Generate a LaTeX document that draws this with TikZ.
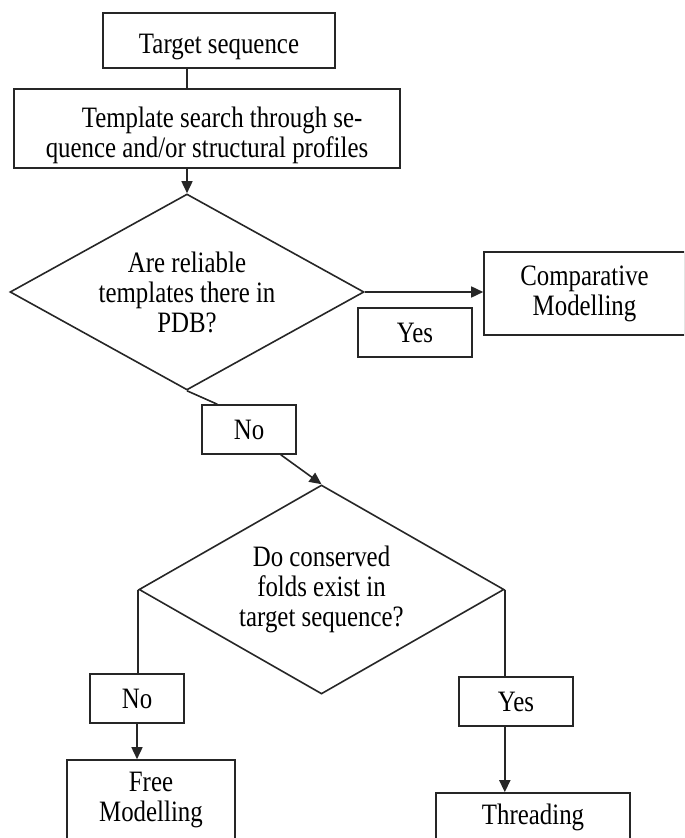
\documentclass[tikz,border=0pt]{standalone}
\usepackage{fontspec}
\setmainfont{Liberation Serif}[FakeStretch=0.84]
\usetikzlibrary{arrows.meta,positioning,shapes.geometric}
\tikzset{
  flowbox/.style={draw=black!85,line width=0.8pt,inner sep=0pt,align=center,
    font=\fontsize{14.8}{15}\selectfont},
  choice/.style={flowbox,diamond,aspect=1.8},
  flowline/.style={draw=black!85,line width=0.8pt},
  flowarrow/.style={flowline,-{Triangle[length=6pt,width=5.5pt]}},
}

\begin{document}
\begin{tikzpicture}[x=0.5pt,y=-0.5pt]
  \clip (0,0) rectangle (684,838);
  % boxes and decisions
  \node[flowbox,minimum width=116pt,minimum height=27.5pt,text height=16pt] (target) at (219,40.5) {Target sequence};
  \node[flowbox,minimum width=193pt,minimum height=39.5pt,align=left,text height=32pt] (search) at (207,128.5)
    {\hspace*{18pt}Template search through se-\\quence and/or structural profiles};
  \node[choice,minimum width=177pt,minimum height=98pt] (reliable) at (187,292)
    {Are reliable\\templates there in\\PDB?};
  \node[flowbox,minimum width=100.5pt,minimum height=41.5pt] (comparative) at (584.5,293.5)
    {Comparative\\Modelling};
  \node[flowbox,minimum width=57pt,minimum height=24.5pt] (yesA) at (415,332.5) {Yes};
  \node[flowbox,minimum width=47pt,minimum height=24.5pt] (noA) at (249,429.5) {No};
  \node[choice,aspect=1.75,minimum width=182.5pt,minimum height=104.5pt] (folds) at (321.5,589.5)
    {Do conserved\\folds exist in\\target sequence?};
  \node[flowbox,minimum width=47pt,minimum height=24.5pt] (noB) at (137,698.5) {No};
  \node[flowbox,minimum width=57pt,minimum height=24.5pt] (yesB) at (516,701.5) {Yes};
  \node[flowbox,minimum width=84pt,minimum height=40pt] (free) at (151,800) {Free\\Modelling};
  \node[flowbox,minimum width=97pt,minimum height=24pt] (threading) at (533,817) {Threading};

  % connectors
  \draw[flowline] (target.south -| reliable.north) -- (search.north -| reliable.north);
  \draw[flowarrow] (search.south -| reliable.north) -- (reliable.north);
  \draw[flowarrow] (reliable.east) -- (reliable.east -| comparative.west);
  \draw[flowline] (reliable.south) -- ([xshift=8pt]noA.north west);
  \draw[flowarrow] ([xshift=-8pt]noA.south east) -- (folds.north);
  \draw[flowline] (folds.west) -- (folds.west |- noB.north);
  \draw[flowarrow] (noB.south) -- (noB.south |- free.north);
  \draw[flowline] (folds.east) -- (folds.east |- yesB.north);
  \draw[flowarrow] (yesB.south -| folds.east) -- (threading.north -| folds.east);
\end{tikzpicture}
\end{document}
